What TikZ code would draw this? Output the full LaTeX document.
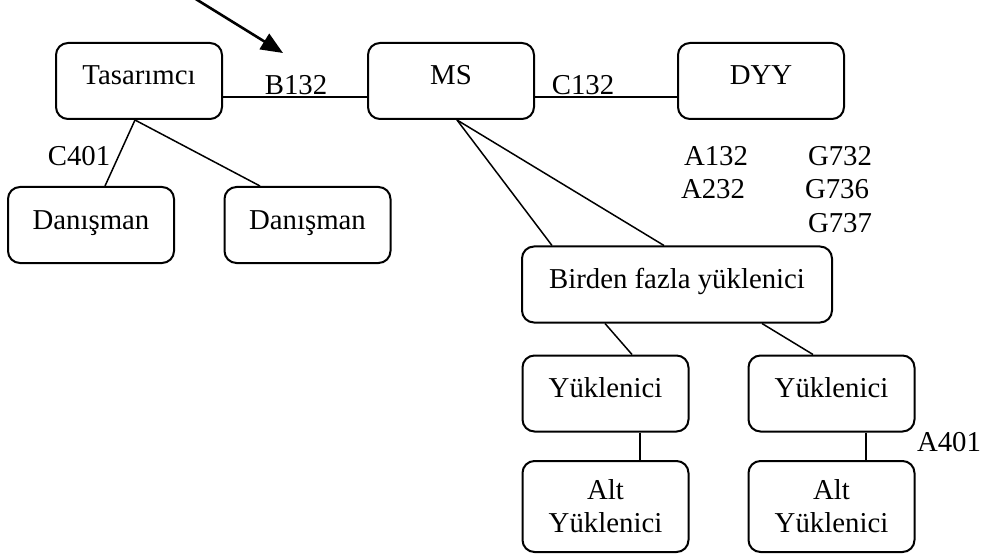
\documentclass[tikz,border=0pt]{standalone}
\usepackage{fontspec}
\setmainfont{Liberation Serif}
\usetikzlibrary{arrows.meta}

\tikzset{
  box/.style={draw, line width=1pt, rounded corners=6pt, minimum width=83pt, inner sep=0pt, text height=21pt, text depth=17pt},
  altbox/.style={draw, line width=1pt, rounded corners=6pt, minimum width=83pt, minimum height=45.5pt, inner sep=0pt, align=center},
  link/.style={line width=0.75pt},
  code/.style={inner sep=0pt}
}

\begin{document}
\begin{tikzpicture}[x=0.5pt, y=-0.5pt, font=\fontsize{14.4}{16.5}\selectfont]
    \useasboundingbox (0,0) rectangle (981,556);

    \node[box] (tas) at (139,81) {Tasarımcı};
    \node[box] (ms) at (451,81) {MS};
    \node[box] (dyy) at (761,81) {DYY};
    \node[box] (dan1) at (91,225) {Danışman};
    \node[box] (dan2) at (307.5,225) {Danışman};
    \node[box, minimum width=155pt] (birden) at (677,284.5) {Birden fazla yüklenici};
    \node[box] (yuk1) at (605.5,393.5) {Yüklenici};
    \node[box] (yuk2) at (831.5,393.5) {Yüklenici};
    \node[altbox] (alt1) at (605.5,506.5) {Alt\\Yüklenici};
    \node[altbox] (alt2) at (831.5,506.5) {Alt\\Yüklenici};

    \node[code] (b132) at (296,85) {B132};
    \node[code] (c132) at (583,85) {C132};
    \node[code] (c401) at (79,156) {C401};
    \node[code] (a132) at (716,156) {A132};
    \node[code] (a232) at (713,189.5) {A232};
    \node[code] (g732) at (840,156) {G732};
    \node[code] (g736) at (837,189.5) {G736};
    \node[code] (g737) at (840,223) {G737};
    \node[code] (a401) at (949,442) {A401};

    \coordinate (start) at (186,-7);
    \coordinate (tip) at (283,53);
    \draw[line width=1.3pt, -{Triangle[length=11pt,width=9pt]}] (start) -- (tip);

    \draw[link] ([yshift=-8pt]tas.east) -- ([yshift=-8pt]ms.west);
    \draw[link] ([yshift=-8pt]ms.east) -- ([yshift=-8pt]dyy.west);
    \draw[link] ([xshift=-2pt]tas.south) -- ([xshift=7pt]dan1.north);
    \draw[link] ([xshift=-2pt]tas.south) -- ([xshift=-23.75pt]dan2.north);
    \draw[link] ([xshift=3pt]ms.south) -- ([xshift=-62.5pt]birden.north);
    \draw[link] ([xshift=3pt]ms.south) -- ([xshift=-6.5pt]birden.north);
    \draw[link] ([xshift=-36pt]birden.south) -- ([xshift=13.25pt]yuk1.north);
    \draw[link] ([xshift=42.5pt]birden.south) -- ([xshift=-9.25pt]yuk2.north);
    \draw[link] ([xshift=17.25pt]yuk1.south) -- ([xshift=17.25pt]alt1.north);
    \draw[link] ([xshift=17.25pt]yuk2.south) -- ([xshift=17.25pt]alt2.north);
\end{tikzpicture}
\end{document}
